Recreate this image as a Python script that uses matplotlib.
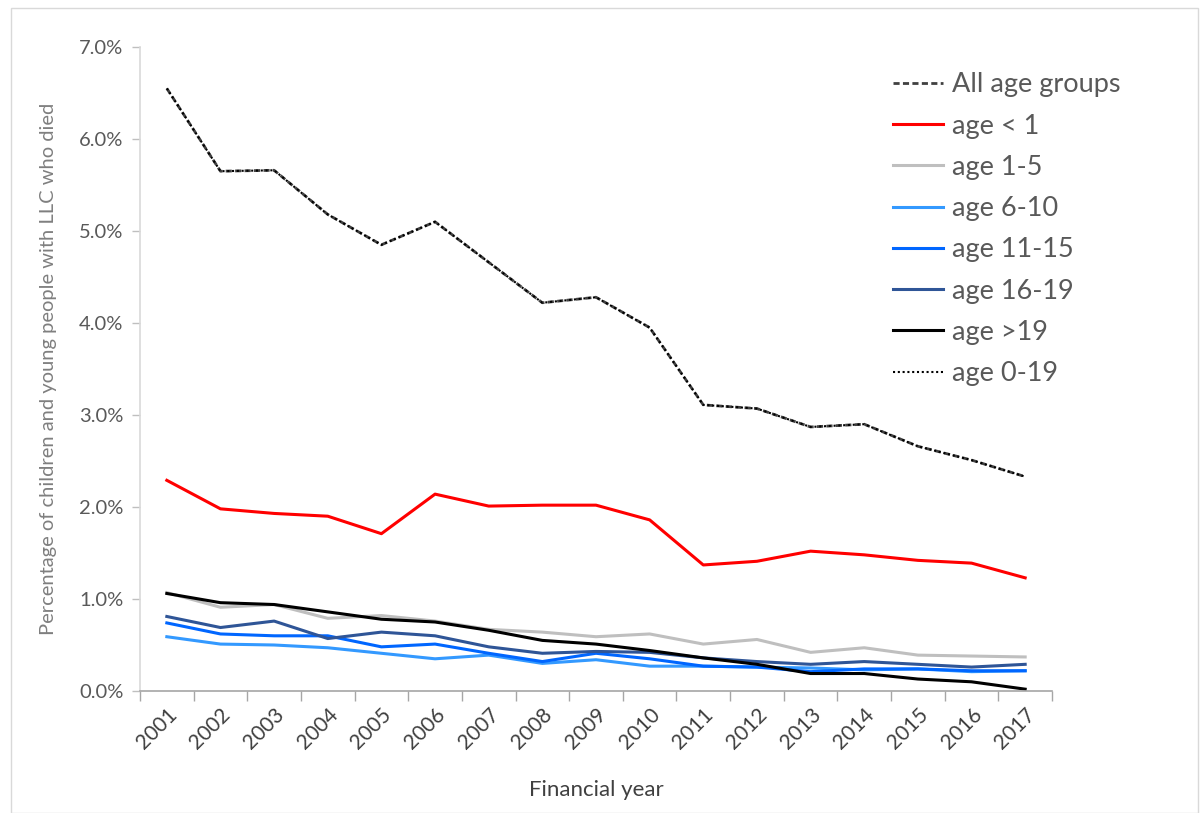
import matplotlib
matplotlib.use("Agg")
import matplotlib.pyplot as plt
from matplotlib.patches import Rectangle
from matplotlib.ticker import FuncFormatter, FixedLocator
import numpy as np

years = [str(y) for y in range(2001, 2018)]

all_ages = [6.55, 5.65, 5.66, 5.18, 4.85, 5.10, 4.66, 4.22, 4.28, 3.95, 3.11, 3.07, 2.87, 2.90, 2.66, 2.51, 2.33]
age_lt1 = [2.29, 1.98, 1.93, 1.90, 1.71, 2.14, 2.01, 2.02, 2.02, 1.86, 1.37, 1.41, 1.52, 1.48, 1.42, 1.39, 1.23]
age_1_5 = [1.07, 0.91, 0.94, 0.79, 0.82, 0.76, 0.67, 0.64, 0.59, 0.62, 0.51, 0.56, 0.42, 0.47, 0.39, 0.38, 0.37]
age_6_10 = [0.59, 0.51, 0.50, 0.47, 0.41, 0.35, 0.39, 0.30, 0.34, 0.27, 0.27, 0.26, 0.25, 0.23, 0.24, 0.21, 0.22]
age_11_15 = [0.74, 0.62, 0.60, 0.60, 0.48, 0.51, 0.41, 0.32, 0.41, 0.35, 0.27, 0.26, 0.21, 0.24, 0.24, 0.22, 0.22]
age_16_19 = [0.81, 0.69, 0.76, 0.57, 0.64, 0.60, 0.48, 0.41, 0.43, 0.42, 0.36, 0.32, 0.29, 0.32, 0.29, 0.26, 0.29]
age_gt19 = [1.06, 0.96, 0.94, 0.86, 0.78, 0.75, 0.66, 0.55, 0.51, 0.44, 0.36, 0.29, 0.19, 0.19, 0.13, 0.10, 0.02]
age_0_19 = [6.55, 5.65, 5.66, 5.18, 4.85, 5.10, 4.66, 4.22, 4.28, 3.95, 3.11, 3.07, 2.87, 2.90, 2.66, 2.51, 2.33]

plt.rcParams['font.family'] = ['Lato', 'DejaVu Sans']

fig = plt.figure(figsize=(12.01, 8.13), dpi=100)
ax = fig.add_axes([140/1201, 1-691/813, (1052-140)/1201, (691-47)/813])

x = np.arange(len(years))
ax.plot(x, all_ages, color='#404040', lw=2, ls=(0, (2.2, 1.2)), label='All age groups')
ax.plot(x, age_lt1, color='#FF0000', lw=2.2, label='age < 1')
ax.plot(x, age_1_5, color='#BFBFBF', lw=2.2, label='age 1-5')
ax.plot(x, age_6_10, color='#3399FF', lw=2.2, label='age 6-10')
ax.plot(x, age_11_15, color='#0066FF', lw=2.2, label='age 11-15')
ax.plot(x, age_16_19, color='#2F5597', lw=2.2, label='age 16-19')
ax.plot(x, age_gt19, color='#000000', lw=2.2, label='age >19')
ax.plot(x, age_0_19, color='#000000', lw=1.5, ls=(0, (1, 1.3)), label='age 0-19')

ax.set_xlim(-0.5, len(years) - 0.5)
ax.set_ylim(0, 7.0)
ax.set_yticks(np.arange(0, 7.01, 1.0))
ax.yaxis.set_major_formatter(FuncFormatter(lambda v, p: f"{v:.1f}%"))
ax.set_xticks(x)
ax.set_xticklabels(years, rotation=45, ha='right', rotation_mode='anchor')
ax.xaxis.set_minor_locator(FixedLocator(np.arange(-0.5, len(years), 1.0)))
ax.tick_params(axis='x', which='major', length=0, pad=10, labelsize=15, labelcolor='#404040')
ax.tick_params(axis='x', which='minor', length=7, color='#A6A6A6', width=1)
ax.tick_params(axis='y', length=6, color='#BFBFBF', width=1, labelsize=14.5, labelcolor='#595959', pad=6)

for s in ['top', 'right']:
    ax.spines[s].set_visible(False)
ax.spines['left'].set_color('#D9D9D9')
ax.spines['bottom'].set_color('#A6A6A6')
ax.spines['left'].set_linewidth(1.2)
ax.spines['bottom'].set_linewidth(1.2)

ax.set_ylabel('Percentage of children and young people with LLC who died', fontsize=14.5, color='#7F7F7F', labelpad=16)
ax.set_xlabel('Financial year', fontsize=16, color='#404040', labelpad=19)

leg = ax.legend(loc='upper left', bbox_to_anchor=(869/1201, 1-48/813), bbox_transform=fig.transFigure,
                frameon=False, fontsize=19.5, handlelength=1.85, handletextpad=0.3, labelspacing=0.6)
for t in leg.get_texts():
    t.set_color('#595959')

fig.patches.append(Rectangle((11/1201, 0), (1198-11)/1201, 1-8/813, transform=fig.transFigure,
                             fill=False, edgecolor='#D9D9D9', lw=1))

fig.savefig('out.png', dpi=100)
